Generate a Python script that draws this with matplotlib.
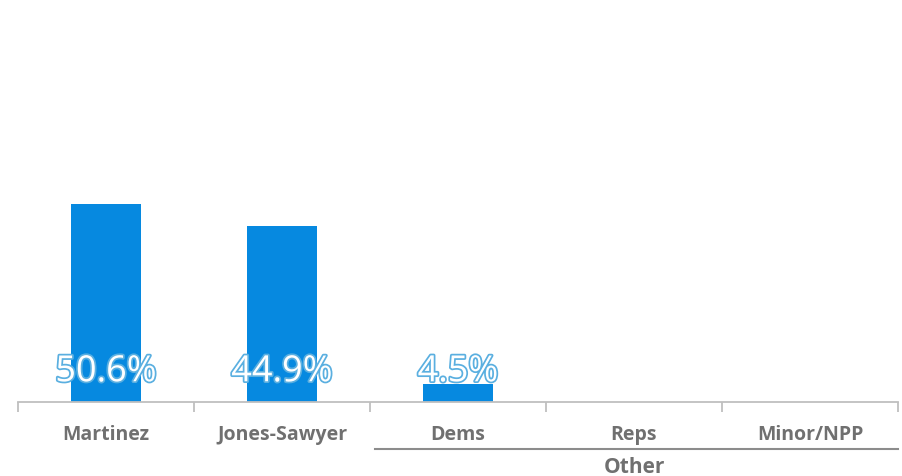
import matplotlib
matplotlib.use("Agg")
import matplotlib.pyplot as plt
import matplotlib.patheffects as pe

categories = ["Martinez", "Jones-Sawyer", "Dems", "Reps", "Minor/NPP"]
values = [50.6, 44.9, 4.5, 0, 0]
value_labels = ["50.6%", "44.9%", "4.5%", "", ""]
group_label = "Other"
group_start = 2

plt.rcParams['font.family'] = ['Open Sans', 'DejaVu Sans']

fig = plt.figure(figsize=(9.03, 4.77), dpi=100)
W, H = 903, 477
ax = fig.add_axes([18 / W, (H - 403) / H, 880 / W, 391 / H])

x = list(range(len(categories)))
ax.bar(x, values, width=0.40, color="#0689e0", zorder=2)
ax.set_xlim(-0.5, len(categories) - 0.5)
ax.set_ylim(0, 100)

for xi, lab in zip(x, value_labels):
    if lab:
        ax.text(xi, 5.3, lab, ha="center", va="baseline", fontsize=26,
                color="white", zorder=3,
                path_effects=[pe.withStroke(linewidth=2.5, foreground="#5aafe0")])

for s in ["top", "right", "left"]:
    ax.spines[s].set_visible(False)
ax.spines["bottom"].set_color("#bfbfbf")
ax.spines["bottom"].set_linewidth(1.3)
ax.set_yticks([])
ax.set_xticks([i - 0.5 for i in range(len(categories) + 1)])
ax.set_xticklabels([])
ax.tick_params(axis="x", length=7, width=1.3, color="#bfbfbf", direction="out")

trans = ax.get_xaxis_transform()
for xi, c in zip(x, categories):
    ax.text(xi, -32 / 391, c, transform=trans, ha="center", va="center",
            fontsize=14, fontweight="bold", color="#707070", clip_on=False)

# group line and label
ax.plot([group_start - 0.47, len(categories) - 0.5], [-47 / 391, -47 / 391],
        transform=trans, color="#8c8c8c", lw=1.5, clip_on=False)
ax.text((group_start + len(categories) - 1) / 2, -65 / 391, group_label,
        transform=trans, ha="center", va="center", fontsize=15,
        fontweight="bold", color="#707070", clip_on=False)

fig.savefig("out.png", dpi=100)
